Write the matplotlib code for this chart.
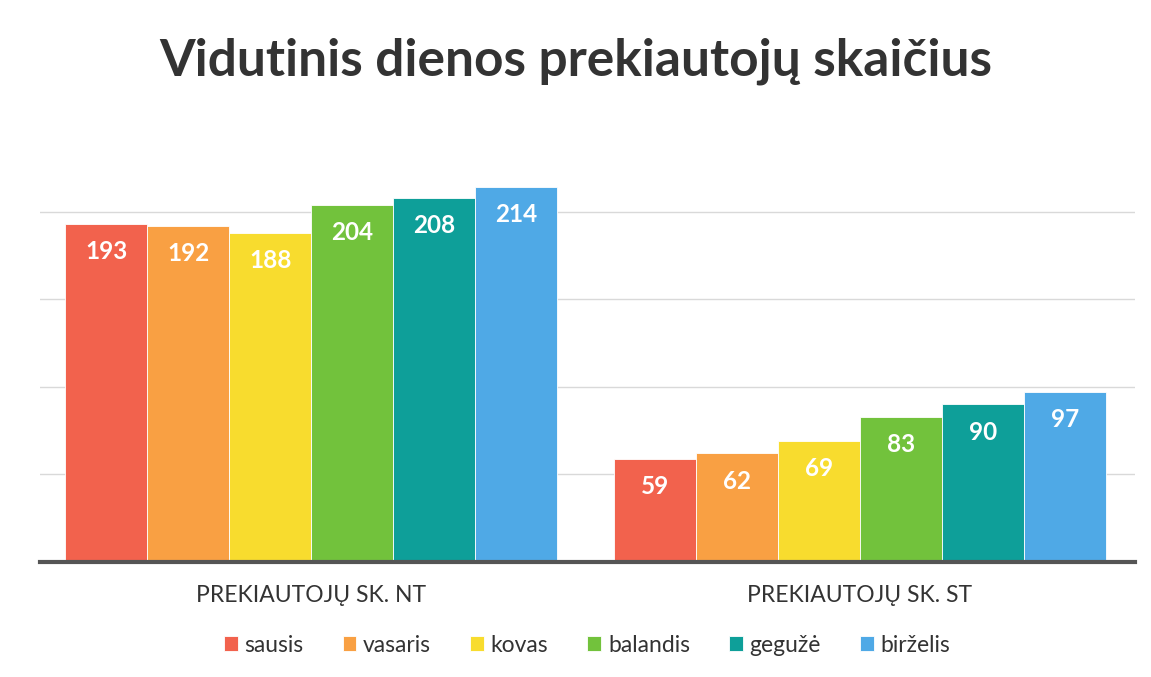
import numpy as np
import matplotlib.pyplot as plt

# chart data
groups = ['PREKIAUTOJŲ SK. NT', 'PREKIAUTOJŲ SK. ST']
months = ['sausis', 'vasaris', 'kovas', 'balandis', 'gegužė', 'birželis']
nt_values = [193, 192, 188, 204, 208, 214]
st_values = [59, 62, 69, 83, 90, 97]
colors = ['#F2624D', '#F9A043', '#F8DC2E', '#72C23C', '#0E9F99', '#4FA9E6']

plt.rcParams['font.family'] = ['Lato', 'DejaVu Sans']

fig = plt.figure(figsize=(11.51, 6.77), dpi=100)
fig.patch.set_facecolor('white')
ax = fig.add_axes([0.035, 0.17, 0.951, 0.569])

x = np.arange(len(groups))
width = 0.1494
for i, m in enumerate(months):
    vals = [nt_values[i], st_values[i]]
    pos = x + (i - 2.5) * width
    bars = ax.bar(pos, vals, width, color=colors[i], label=m, zorder=3,
                  edgecolor='white', linewidth=0.6)
    for b, v in zip(bars, vals):
        ax.annotate(str(v), (b.get_x() + b.get_width() / 2, v),
                    xytext=(0, -20), textcoords='offset points',
                    ha='center', va='center', color='white',
                    fontsize=17.5, fontweight='bold', zorder=4)

ax.set_ylim(0, 220)
ax.set_xlim(-0.4936, 1.5009)
ax.set_yticks([50, 100, 150, 200])
ax.yaxis.grid(True, color='#d9d9d9', linewidth=1, zorder=0)
ax.tick_params(left=False, labelleft=False, bottom=False)
for s in ['top', 'right', 'left']:
    ax.spines[s].set_visible(False)
ax.spines['bottom'].set_color('#555555')
ax.spines['bottom'].set_linewidth(3)
ax.spines['bottom'].set_zorder(5)

ax.set_xticks(x)
ax.set_xticklabels(groups, fontsize=16.5, color='#333333')
ax.tick_params(axis='x', pad=13)

fig.suptitle('Vidutinis dienos prekiautojų skaičius', y=0.945,
             fontsize=37, fontweight='bold', color='#333333')

leg = fig.legend(loc='center', bbox_to_anchor=(0.51, 0.047), ncol=6,
                 frameon=False, fontsize=16.5, handlelength=0.6,
                 handleheight=0.6, handletextpad=0.3, columnspacing=1.7,
                 labelcolor='#333333')

plt.savefig('out.png', dpi=100)
